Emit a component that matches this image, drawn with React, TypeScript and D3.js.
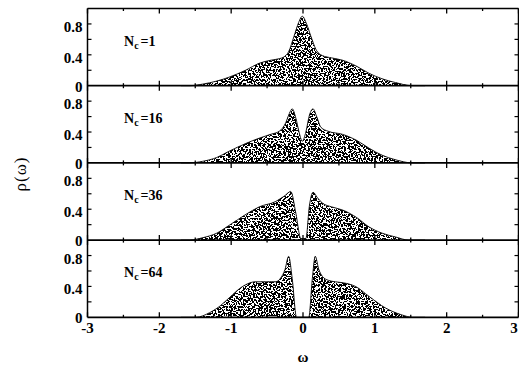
import React from "react";
import * as d3 from "d3";

// Spectral function rho(omega) for increasing cluster size Nc
const clusterSizes = [1, 16, 36, 64];

const omegaNc1 = [-1.7, -1.58, -1.4, -1.2, -1.03, -0.8, -0.61, -0.45, -0.33, -0.27, -0.2, -0.125, -0.06, -0.01, 0.05, 0.11, 0.18, 0.27, 0.4, 0.55, 0.75, 0.92, 1.1, 1.29, 1.52, 1.7];
const rhoNc1 = [0, 0, 0.02, 0.06, 0.11, 0.2, 0.29, 0.33, 0.35, 0.37, 0.44, 0.64, 0.82, 0.9, 0.8, 0.64, 0.47, 0.39, 0.36, 0.33, 0.25, 0.16, 0.09, 0.04, 0, 0];

const omegaNc16 = [-1.7, -1.58, -1.4, -1.2, -1.03, -0.8, -0.61, -0.45, -0.33, -0.24, -0.19, -0.15, -0.1, -0.05, -0.01, 0.04, 0.09, 0.14, 0.19, 0.25, 0.35, 0.55, 0.75, 0.92, 1.1, 1.29, 1.52, 1.7];
const rhoNc16 = [0, 0, 0.02, 0.07, 0.15, 0.25, 0.32, 0.37, 0.41, 0.52, 0.64, 0.7, 0.58, 0.38, 0.28, 0.4, 0.62, 0.7, 0.6, 0.46, 0.41, 0.37, 0.29, 0.19, 0.1, 0.04, 0, 0];

const omegaNc36 = [-1.7, -1.58, -1.4, -1.2, -1.03, -0.8, -0.61, -0.38, -0.26, -0.17, -0.1, -0.03, 0.04, 0.09, 0.14, 0.2, 0.27, 0.4, 0.55, 0.75, 0.92, 1.1, 1.29, 1.47, 1.7];
const rhoNc36 = [0, 0, 0.03, 0.09, 0.19, 0.33, 0.43, 0.5, 0.57, 0.63, 0.35, 0.02, 0.02, 0.45, 0.62, 0.55, 0.48, 0.43, 0.39, 0.29, 0.17, 0.09, 0.04, 0, 0];

const omegaNc64 = [-1.7, -1.49, -1.3, -1.15, -1.03, -0.84, -0.66, -0.5, -0.38, -0.31, -0.25, -0.2, -0.15, -0.09, 0.08, 0.13, 0.17, 0.22, 0.27, 0.35, 0.45, 0.6, 0.73, 0.92, 1.15, 1.38, 1.52, 1.7];
const rhoNc64 = [0, 0, 0.06, 0.15, 0.25, 0.4, 0.46, 0.46, 0.46, 0.51, 0.62, 0.79, 0.5, 0, 0, 0.5, 0.79, 0.62, 0.53, 0.48, 0.46, 0.44, 0.4, 0.27, 0.12, 0.03, 0, 0];

const omegaSeries = [omegaNc1, omegaNc16, omegaNc36, omegaNc64];
const rhoSeries = [rhoNc1, rhoNc16, rhoNc36, rhoNc64];

const xTickValues = [-3, -2, -1, 0, 1, 2, 3];
const xTickLabels = ["-3", "-2", "-1", "0", "1", "2", "3"];
const xMinorTicks = [-2.5, -1.5, -0.5, 0.5, 1.5, 2.5];
const yTickLabelValues = [0, 0.4, 0.8];
const yTickMarks = [0.2, 0.4, 0.6, 0.8];

const W = 519;
const H = 367;
const left = 87.5;
const right = 518.5;
const top = 8.5;
const panelH = 77.2;
const FONT = "'Liberation Serif', 'Times New Roman', serif";

export default function App() {
  const x = d3.scaleLinear().domain([-3, 3]).range([left, right]);
  const panels = clusterSizes.map((nc, i) => {
    const y0 = top + i * panelH;
    const y = d3.scaleLinear().domain([0, 1]).range([y0 + panelH, y0]);
    const pts: [number, number][] = omegaSeries[i].map((w, k) => [w, rhoSeries[i][k]]);
    const area = d3
      .area<[number, number]>()
      .x((d) => x(d[0]))
      .y0(y(0))
      .y1((d) => y(d[1]))
      .curve(d3.curveMonotoneX);
    const line = d3
      .line<[number, number]>()
      .x((d) => x(d[0]))
      .y((d) => y(d[1]))
      .curve(d3.curveMonotoneX);
    return { nc, y0, y, areaPath: area(pts) || "", linePath: line(pts) || "" };
  });
  const bottom = top + 4 * panelH;

  return (
    <svg
      width={W}
      height={H}
      style={{ position: "absolute", left: 0, top: 0, background: "#fff" }}
      fontFamily={FONT}
    >
      <defs>
        <filter id="grain" filterUnits="userSpaceOnUse" x="0" y="0" width={W} height={H}>
          <feTurbulence type="fractalNoise" baseFrequency="0.6" numOctaves="2" seed="7" result="n" />
          <feColorMatrix
            in="n"
            type="matrix"
            values="0 0 0 0 0  0 0 0 0 0  0 0 0 0 0  1 0 0 0 0"
            result="a"
          />
          <feComponentTransfer in="a" result="t">
            <feFuncA type="discrete" tableValues="0 0 0 0 0 0 0 0 0 0 1 1 1 1 1 1 1 1 1 1" />
          </feComponentTransfer>
          <feComposite in="t" in2="SourceAlpha" operator="in" />
        </filter>
      </defs>

      {panels.map((p) => (
        <g key={p.nc}>
          <path d={p.areaPath} fill="#000" filter="url(#grain)" />
          <path d={p.linePath} fill="none" stroke="#000" strokeWidth={0.9} />
          {/* y ticks, left and right */}
          {yTickMarks.map((v) => (
            <g key={v}>
              <line x1={left} x2={left + 4} y1={p.y(v)} y2={p.y(v)} stroke="#000" strokeWidth={1.2} />
              <line x1={right - 4} x2={right} y1={p.y(v)} y2={p.y(v)} stroke="#000" strokeWidth={1.2} />
            </g>
          ))}
          {yTickLabelValues.map((v) => (
            <text
              key={v}
              x={left - 5}
              y={p.y(v) + (v === 0 ? 6 : 8)}
              textAnchor="end"
              fontSize={15}
              fontWeight="bold"
            >
              {v === 0 ? "0" : d3.format(".1f")(v)}
            </text>
          ))}
          <text x={124} y={p.y0 + 37} fontSize={14} fontWeight="bold">
            N
            <tspan fontSize={10} dy={3}>c</tspan>
            <tspan dy={-3} dx={2}>=</tspan>
            {String(p.nc)}
          </text>
        </g>
      ))}

      {/* panel boundaries and x ticks */}
      {[0, 1, 2, 3, 4].map((k) => {
        const yb = top + k * panelH;
        return (
          <g key={k}>
            <line x1={left} x2={right} y1={yb} y2={yb} stroke="#000" strokeWidth={k === 0 ? 1.4 : 1.8} />
            {xTickValues.map((v) => (
              <line
                key={v}
                x1={x(v)}
                x2={x(v)}
                y1={k === 0 ? yb : yb - 5}
                y2={k === 4 ? yb : yb + 5}
                stroke="#000"
                strokeWidth={1.3}
              />
            ))}
            {xMinorTicks.map((v) => (
              <line
                key={v}
                x1={x(v)}
                x2={x(v)}
                y1={k === 0 ? yb : yb - 2.5}
                y2={k === 4 ? yb : yb + 2.5}
                stroke="#000"
                strokeWidth={1.3}
              />
            ))}
          </g>
        );
      })}
      <line x1={left} x2={left} y1={top} y2={bottom} stroke="#000" strokeWidth={1.5} />
      <line x1={right} x2={right} y1={top} y2={bottom} stroke="#000" strokeWidth={1.5} />

      {xTickValues.map((v, i) => (
        <text
          key={v}
          x={Math.min(x(v), W - 5)}
          y={bottom + 16}
          textAnchor="middle"
          fontSize={15}
          fontWeight="bold"
        >
          {xTickLabels[i]}
        </text>
      ))}
      <text x={x(0)} y={362} textAnchor="middle" fontSize={15} fontWeight="bold">
        ω
      </text>
      <text
        transform={`translate(26,174) rotate(-90)`}
        textAnchor="middle"
        fontSize={17}
        letterSpacing={1}
      >
        ρ(ω)
      </text>
    </svg>
  );
}
